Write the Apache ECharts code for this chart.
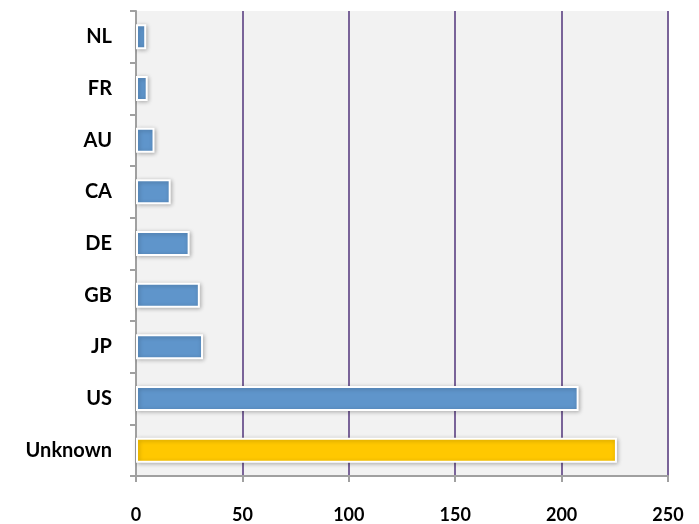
<!DOCTYPE html>
<html>
<head>
<meta charset="utf-8">
<script src="https://cdn.jsdelivr.net/npm/echarts@6/dist/echarts.min.js"></script>
<style>
  html, body { margin: 0; padding: 0; background: #fff; }
  #chart { width: 699px; height: 524px; }
</style>
</head>
<body>
<div id="chart"></div>
<script>
// bottom to top, as the category axis draws them
const countries = ['Unknown', 'US', 'JP', 'GB', 'DE', 'CA', 'AU', 'FR', 'NL'];
const visits = [226, 208, 31.5, 30, 25.2, 16.3, 8.7, 5.5, 4.8];
const xTicks = [0, 50, 100, 150, 200, 250];

const blue = '#5f95cb';
const gold = '#ffc800';

const chart = echarts.init(document.getElementById('chart'));
chart.setOption({
  animation: false,
  grid: {
    left: 136, right: 31, top: 11, bottom: 48,
    show: true, backgroundColor: '#f2f2f2', borderWidth: 0
  },
  xAxis: {
    type: 'value',
    min: xTicks[0], max: xTicks[xTicks.length - 1], interval: 50,
    axisLine: { show: true, lineStyle: { color: '#a0a0a0', width: 2 } },
    axisTick: { show: true, length: 6, lineStyle: { color: '#a0a0a0', width: 2 } },
    splitLine: { show: true, lineStyle: { color: '#7a6499', width: 2 } },
    axisLabel: {
      color: '#000', fontSize: 18, fontWeight: 'bold',
      fontFamily: 'Lato, "Open Sans", sans-serif', margin: 30
    }
  },
  yAxis: {
    type: 'category',
    data: countries,
    axisLine: { show: true, lineStyle: { color: '#a0a0a0', width: 2 } },
    axisTick: { show: true, length: 6, lineStyle: { color: '#a0a0a0', width: 2 } },
    axisLabel: {
      color: '#000', fontSize: 20, fontWeight: 'bold',
      fontFamily: 'Lato, "Open Sans", sans-serif', margin: 24
    }
  },
  series: [{
    type: 'bar',
    barWidth: 25,
    data: visits.map((v, i) => ({
      value: v,
      itemStyle: { color: countries[i] === 'Unknown' ? gold : blue }
    })),
    itemStyle: {
      borderColor: '#fff', borderWidth: 2,
      shadowBlur: 4, shadowColor: 'rgba(0,0,0,0.25)', shadowOffsetX: 1, shadowOffsetY: 1
    }
  }]
});
</script>
</body>
</html>
